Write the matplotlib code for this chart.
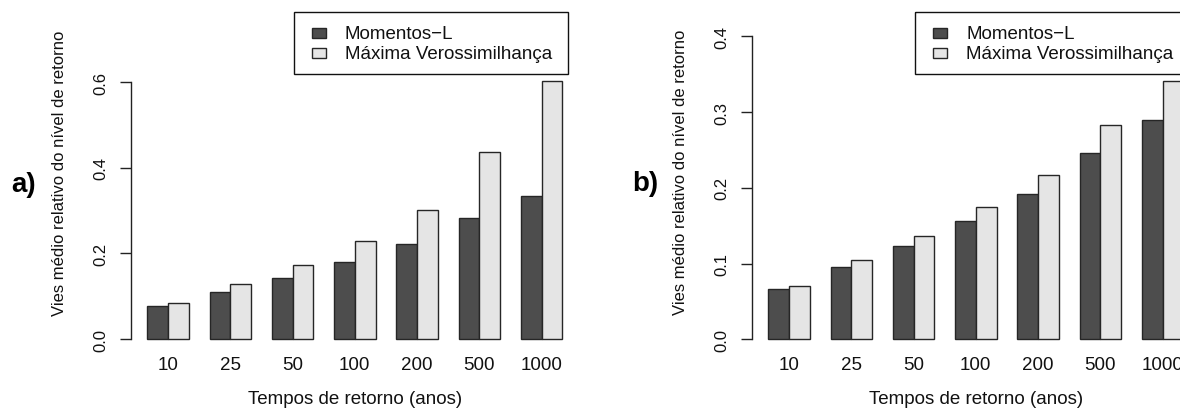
import numpy as np
import matplotlib
matplotlib.use("Agg")
import matplotlib.pyplot as plt
from matplotlib.patches import Rectangle
from matplotlib.transforms import Affine2D

# Return periods (years) and mean relative bias of the return level
periods = ["10", "25", "50", "100", "200", "500", "1000"]
lmom_a = [0.076, 0.110, 0.142, 0.179, 0.221, 0.283, 0.334]
mle_a = [0.084, 0.129, 0.173, 0.228, 0.301, 0.438, 0.603]
lmom_b = [0.066, 0.095, 0.123, 0.156, 0.192, 0.246, 0.290]
mle_b = [0.070, 0.105, 0.137, 0.174, 0.217, 0.283, 0.341]
series_names = ["Momentos\u2212L", "Máxima Verossimilhança"]
yticks_a = [0.0, 0.2, 0.4, 0.6]
yticks_b = [0.0, 0.1, 0.2, 0.3, 0.4]
ylabel = "Vies médio relativo do nível de retorno"
xlabel = "Tempos de retorno (anos)"

DARK = "#4d4d4d"
LIGHT = "#e5e5e5"
EDGE = "#262626"
INK = "#111111"
HFONT = 13.5   # horizontal text
VFONT = 12     # rotated text

W, H = 1180, 410
plt.rcParams["font.family"] = ["Liberation Sans", "DejaVu Sans"]
fig = plt.figure(figsize=(W / 100, H / 100), dpi=100)
# pixel coordinates measured from the top-left corner
px = Affine2D().scale(1 / W, -1 / H).translate(0, 1) + fig.transFigure


def panel(left, top, height, ylim, yticks, lmom, mle, leg_left, tag, tag_xy,
          ylab_xy):
    width = 448.2
    ax = fig.add_axes([left / W, 1 - (top + height) / H, width / W, height / H])
    x = np.arange(len(periods)) * 3
    ax.bar(x + 1, lmom, width=1, align="edge", color=DARK, edgecolor=EDGE,
           linewidth=1.0)
    ax.bar(x + 2, mle, width=1, align="edge", color=LIGHT, edgecolor=EDGE,
           linewidth=1.0)
    ax.set_xlim(0.2, 21.8)
    ax.set_ylim(*ylim)
    for s in ("top", "right", "bottom"):
        ax.spines[s].set_visible(False)
    ax.spines["left"].set_bounds(yticks[0], yticks[-1])
    ax.spines["left"].set_color("#222222")
    ax.spines["left"].set_linewidth(1.0)

    ax.set_yticks(yticks)
    ax.set_yticklabels([f"{v:.1f}" for v in yticks])
    ax.tick_params(axis="y", length=8.1, width=1.0, color="#222222", pad=8,
                   labelsize=VFONT, labelrotation=90, labelcolor=INK)
    for lab in ax.get_yticklabels():
        lab.set_va("center")

    ax.set_xticks(x + 2)
    ax.set_xticklabels(periods)
    bottom_px = top + height
    ax.tick_params(axis="x", length=0, pad=(357.0 - bottom_px) * 0.72,
                   labelsize=HFONT, labelcolor=INK)

    ax.set_ylabel(ylabel, fontsize=VFONT, color=INK, ha="center", va="center")
    ax.yaxis.set_label_coords((ylab_xy[0] - left) / width,
                              (bottom_px - ylab_xy[1]) / height)
    ax.set_xlabel(xlabel, fontsize=HFONT, color=INK, va="center")
    ax.xaxis.set_label_coords(0.5, (bottom_px - 400.0) / height)

    # legend box
    fig.add_artist(Rectangle((leg_left, 12.7), 274, 62.3, transform=px,
                             fill=False, edgecolor=INK, linewidth=1.0))
    for i, (name, col) in enumerate(zip(series_names, (DARK, LIGHT))):
        yc = 33.8 + 20 * i
        fig.add_artist(Rectangle((leg_left + 18, yc - 5), 14, 10, transform=px,
                                 facecolor=col, edgecolor=EDGE, linewidth=1.0))
        fig.text(leg_left + 51, 39.3 + 20 * i, name, transform=px,
                 fontsize=HFONT, color=INK, va="baseline", ha="left")

    fig.text(tag_xy[0], tag_xy[1], tag, transform=px, fontsize=20,
             fontweight="bold", color="black", ha="center", va="center")
    return ax


panel(130.7, 71.6, 278.7, (-0.024, 0.627), yticks_a, lmom_a, mle_a,
      294, "a)", (24, 185.5), (60, 173))
panel(751.7, 25.2, 327.2, (-0.016, 0.416), yticks_b, lmom_b, mle_b,
      915, "b)", (645, 184), (680, 172.5))

fig.savefig("out.png", dpi=100)
